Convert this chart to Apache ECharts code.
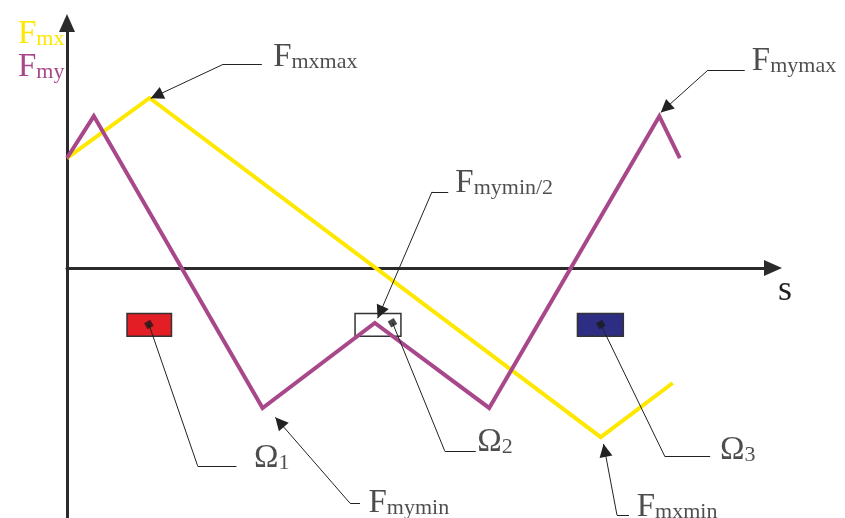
<!DOCTYPE html>
<html>
<head>
<meta charset="utf-8">
<title>Fmx / Fmy</title>
<script src="https://cdn.jsdelivr.net/npm/echarts@6/dist/echarts.min.js"></script>
<style>
  html, body { margin: 0; padding: 0; background: #fff; }
  #main { width: 845px; height: 518px; }
</style>
</head>
<body>
<div id="main"></div>
<script type="text/javascript">
// 数据 (s along x, F along y)
var fmxS = [0, 11.7, 75.6, 85.8];
var fmxF = [44.9, 69.4, -69.0, -46.9];
var fmyS = [0, 3.8, 27.7, 43.6, 59.8, 83.9, 86.8];
var fmyF = [44.9, 62.0, -57.1, -22.4, -57.1, 62.0, 44.9];

// regions Ω1..Ω3
var regionNames = ['Ω1', 'Ω2', 'Ω3'];
var regionS = [[8.5, 14.8], [40.8, 47.3], [72.3, 78.8]];
var regionF = [-18.5, -27.8];
var regionAnchorS = [11.6, 46.1, 75.6];
var regionAnchorF = [-23.0, -22.3, -23.0];

// annotations
var noteNames = ['Fmxmax', 'Fmymax', 'Fmymin/2', 'Fmymin', 'Fmxmin', 'Ω1', 'Ω2', 'Ω3'];
var noteS = [29.2, 97.0, 55.0, 42.7, 80.7, 26.5, 58.1, 92.5];
var noteF = [82.1, 80.5, 30.7, -100.0, -101.5, -81.7, -75.0, -78.4];
var leaderEndS = [27.6, 96.0, 54.0, 41.5, 79.6, 24.0, 57.9, 91.1];
var elbowS = [22.1, 90.8, 51.7, 40.1, 77.9, 18.5, 53.5, 84.7];
var elbowF = [83.1, 80.8, 31.1, -96.0, -100.8, -80.7, -74.6, -77.0];
var tipS = [11.86, 84.1, 44.0, 29.5, 76.0];
var tipF = [69.25, 63.5, -20.5, -60.9, -71.8];

var yellow = '#FFE800';
var purple = '#A8478A';
var ink = '#231F20';
var serif = '"Liberation Serif", "Times New Roman", serif';

function pairs(xs, ys) {
  return xs.map(function (x, i) { return [x, ys[i]]; });
}

var myChart = echarts.init(document.getElementById('main'));

// region boxes
var regionStyles = [
  { color: '#E31E24', borderColor: '#333', borderWidth: 1.5 },
  { color: '#fff', borderColor: '#333', borderWidth: 1.5 },
  { color: '#2E2D84', borderColor: '#333', borderWidth: 1.5 }
];
var areaData = regionNames.map(function (n, i) {
  return [
    { name: n, coord: [regionS[i][0], regionF[0]], itemStyle: regionStyles[i] },
    { coord: [regionS[i][1], regionF[1]] }
  ];
});

// leader lines
var leaderData = [];
noteNames.forEach(function (n, i) {
  leaderData.push([
    { coord: [leaderEndS[i], elbowF[i]] },
    { coord: [elbowS[i], elbowF[i]] }
  ]);
  if (i < tipS.length) {
    leaderData.push([
      { coord: [elbowS[i], elbowF[i]] },
      { coord: [tipS[i], tipF[i]], symbol: 'triangle', symbolSize: 13, symbolOffset: [0, '50%'] }
    ]);
  } else {
    var k = i - tipS.length;
    leaderData.push([
      { coord: [elbowS[i], elbowF[i]] },
      { coord: [regionAnchorS[k], regionAnchorF[k]] }
    ]);
  }
});

function richName(name) {
  return '{a|' + name.charAt(0) + '}{b|' + name.slice(1) + '}';
}

var richText = {
  a: { fontFamily: serif, fontSize: 33, lineHeight: 30, verticalAlign: 'bottom' },
  b: { fontFamily: serif, fontSize: 22, verticalAlign: 'bottom', padding: [0, 0, 1, 0] }
};

var option = {
  animation: false,
  grid: { left: 67, right: 72, top: 23, bottom: 0, containLabel: false },
  legend: {
    orient: 'vertical',
    left: 8,
    top: 13,
    itemGap: 0,
    itemWidth: 0,
    itemHeight: 0,
    icon: 'none',
    selectedMode: false,
    formatter: richName,
    textStyle: { rich: richText },
    data: [
      { name: 'Fmx', textStyle: { color: yellow } },
      { name: 'Fmy', textStyle: { color: purple } }
    ]
  },
  xAxis: {
    type: 'value',
    min: 0,
    max: 100,
    name: 's',
    nameLocation: 'end',
    nameGap: 12,
    nameTextStyle: {
      fontFamily: serif, fontSize: 36, color: ink,
      align: 'center', verticalAlign: 'top', padding: [4, 0, 0, 0]
    },
    axisLine: {
      onZero: true,
      symbol: ['none', 'triangle'],
      symbolSize: [16, 18],
      lineStyle: { color: '#2b2b2b', width: 3 }
    },
    axisTick: { show: false },
    axisLabel: { show: false },
    splitLine: { show: false }
  },
  yAxis: {
    type: 'value',
    min: -102,
    max: 100,
    axisLine: {
      show: true,
      symbol: ['none', 'triangle'],
      symbolSize: [16, 18],
      lineStyle: { color: '#2b2b2b', width: 3 }
    },
    axisTick: { show: false },
    axisLabel: { show: false },
    splitLine: { show: false }
  },
  series: [
    {
      name: 'Fmx',
      type: 'line',
      data: pairs(fmxS, fmxF),
      symbol: 'none',
      z: 3,
      lineStyle: { color: yellow, width: 4, join: 'miter' },
      itemStyle: { color: yellow }
    },
    {
      name: 'Fmy',
      type: 'line',
      data: pairs(fmyS, fmyF),
      symbol: 'none',
      z: 4,
      lineStyle: { color: purple, width: 4, join: 'miter' },
      itemStyle: { color: purple },
      markArea: {
        silent: true,
        label: { show: false },
        data: areaData
      }
    },
    {
      name: 'anchors',
      type: 'scatter',
      data: pairs(regionAnchorS, regionAnchorF),
      symbol: 'rect',
      symbolSize: 7,
      symbolRotate: 30,
      z: 6,
      itemStyle: { color: '#1a1a1a' }
    },
    {
      name: 'notes',
      type: 'scatter',
      symbolSize: 0,
      z: 5,
      data: noteNames.map(function (n, i) {
        return { name: n, value: [noteS[i], noteF[i]] };
      }),
      label: {
        show: true,
        position: [0, 0],
        align: 'left',
        verticalAlign: 'bottom',
        offset: [0, 7],
        color: ink,
        formatter: function (p) { return richName(p.name); },
        rich: richText
      },
      markLine: {
        silent: true,
        symbol: ['none', 'none'],
        symbolSize: 13,
        label: { show: false },
        lineStyle: { color: '#222', width: 1, type: 'solid' },
        data: leaderData
      }
    }
  ]
};

myChart.setOption(option);
</script>
</body>
</html>
